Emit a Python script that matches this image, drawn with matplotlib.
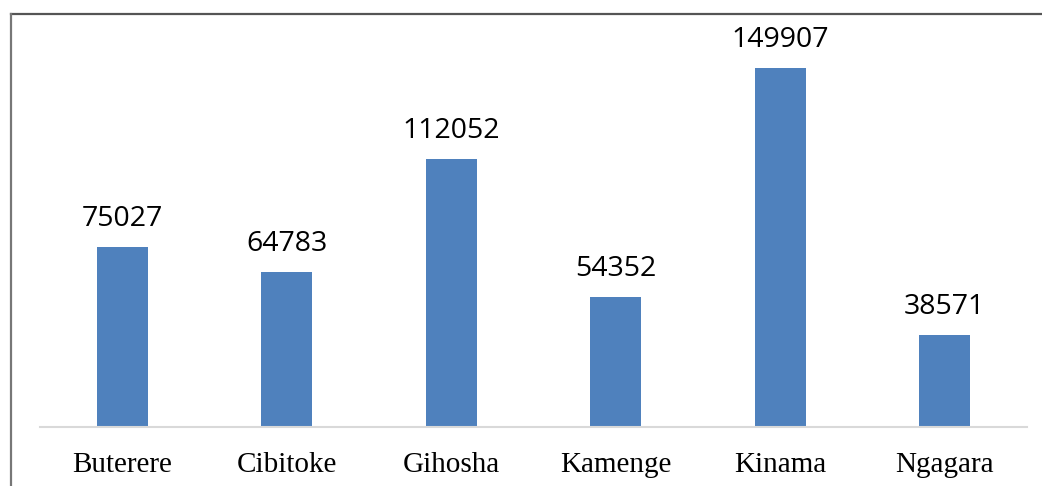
import matplotlib
matplotlib.use("Agg")
import matplotlib.pyplot as plt
from matplotlib.lines import Line2D

# data
districts = ["Buterere", "Cibitoke", "Gihosha", "Kamenge", "Kinama", "Ngagara"]
population = [75027, 64783, 112052, 54352, 149907, 38571]

W, H = 1042, 486
fig = plt.figure(figsize=(W / 100, H / 100), dpi=100)

# plot area: baseline at y=427px, x from 40 to 1027px
left, right = 40 / W, 1027 / W
bottom = 1 - 427 / H
ymax = 149907 * 427 / (427 - 68)
ax = fig.add_axes([left, bottom, right - left, 1 - bottom])

x = range(len(districts))
bars = ax.bar(x, population, width=0.31, color="#4F81BD", zorder=2)
ax.set_xlim(-0.5, len(districts) - 0.5)
ax.set_ylim(0, ymax)

for b, v in zip(bars, population):
    ax.annotate(str(v), (b.get_x() + b.get_width() / 2, v), xytext=(0, 10),
                textcoords="offset points", ha="center", va="bottom",
                fontsize=20.5, family="Open Sans", color="#000000")

for s in ["top", "right", "left"]:
    ax.spines[s].set_visible(False)
ax.spines["bottom"].set_color("#D9D9D9")
ax.spines["bottom"].set_linewidth(1.5)
ax.set_yticks([])
ax.set_xticks(list(x))
ax.set_xticklabels(districts, family="Liberation Serif", fontsize=21)
ax.tick_params(axis="x", length=0, pad=18)
ax.patch.set_visible(False)

# outer frame (top and left edges visible)
fx, fy = 10.5 / W, 1 - 14.5 / H
fig.add_artist(Line2D([fx, 1.0], [fy, fy], color="#555555", lw=1.6))
fig.add_artist(Line2D([fx, fx], [0, fy], color="#777777", lw=1.6))

fig.savefig("out.png", dpi=100)
